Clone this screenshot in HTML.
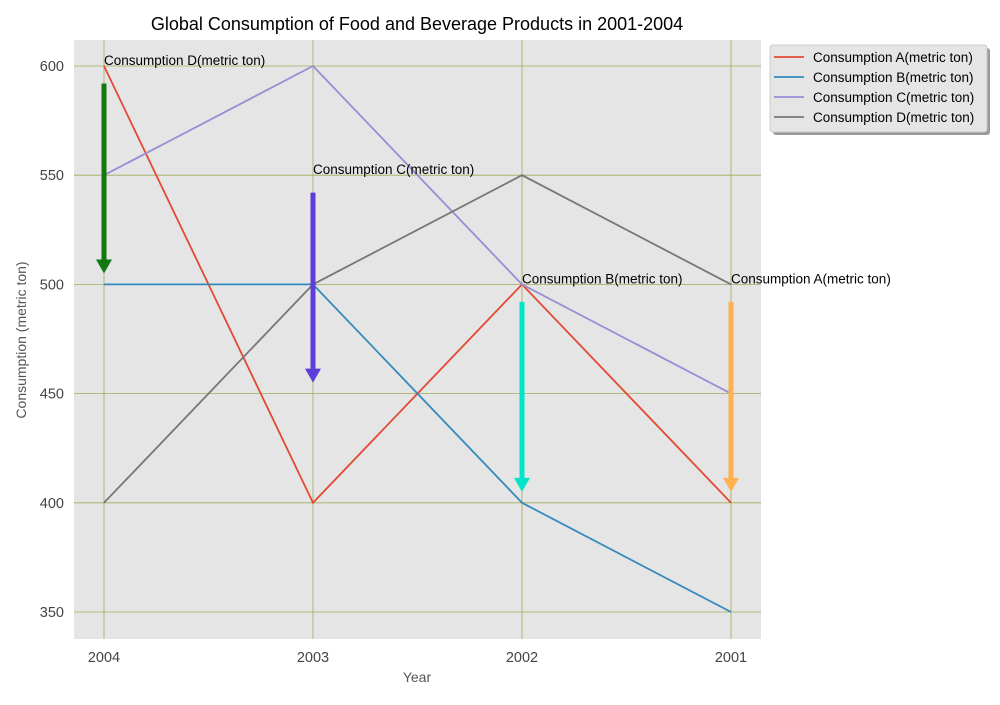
<!DOCTYPE html>
<html><head><meta charset="utf-8"><style>
body{margin:0;background:#fff;font-family:"Liberation Sans",sans-serif}
svg text{font-family:"Liberation Sans",sans-serif}
</style></head><body>
<svg id="chart" width="1000" height="700">
<text x="417" y="30" font-size="18" text-anchor="middle">Global Consumption of Food and Beverage Products in 2001-2004</text>
<rect x="74" y="40" width="687" height="599" fill="#e5e5e5"/>
<g id="grid"></g><g id="series"></g><g id="annots"></g>
<text x="417" y="682" font-size="14" fill="#555" text-anchor="middle">Year</text>
<text transform="translate(26,340) rotate(-90)" font-size="14" fill="#555" text-anchor="middle">Consumption (metric ton)</text>
<g>
<rect x="773" y="48" width="217" height="87" rx="3" fill="#999"/>
<rect x="770" y="45" width="217" height="87" rx="3" fill="#e5e5e5" stroke="#ccc"/>
<g id="legend"></g>
</g>
</svg>
<script>
const categories=["2004","2003","2002","2001"];
const seriesA=[600,400,500,400];
const seriesB=[500,500,400,350];
const seriesC=[550,600,500,450];
const seriesD=[400,500,550,500];
const yTicks=[350,400,450,500,550,600];
const names=["Consumption A(metric ton)","Consumption B(metric ton)","Consumption C(metric ton)","Consumption D(metric ton)"];
const colors=["#e24a33","#348abd","#988ed5","#777777"];
const annotIdx=[3,2,1,0];
const annotVal=[500,500,550,600];
const annotColors=["#ffb04f","#00e5c8","#5e3ed8","#127812"];
const ns="http://www.w3.org/2000/svg";
const X=i=>104+i*209;
const Y=v=>66+(600-v)*2.184;
function mk(t,a,p){const e=document.createElementNS(ns,t);for(const k in a)e.setAttribute(k,a[k]);p.appendChild(e);return e;}
const grid=document.getElementById('grid');
yTicks.forEach(v=>{
 const l=mk('line',{x1:74,x2:761,y1:Y(v),y2:Y(v),stroke:'#a4aa5a','stroke-width':0.8},grid);
 
 
 const t=mk('text',{x:64,y:Y(v)+5,'font-size':14.5,fill:'#444','text-anchor':'end'},grid);t.textContent=v;
 
 
});
categories.forEach((c,i)=>{
 const l=mk('line',{x1:X(i),x2:X(i),y1:40,y2:639,stroke:'#a4aa5a','stroke-width':0.8},grid);
 
 
 const t=mk('text',{x:X(i),y:662,'font-size':14.5,fill:'#444','text-anchor':'middle'},grid);t.textContent=c;
 
 
});
const S=document.getElementById('series');
[seriesA,seriesB,seriesC,seriesD].forEach((d,s)=>{
 const p=mk('polyline',{points:d.map((v,i)=>X(i)+','+Y(v)).join(' '),fill:'none',stroke:colors[s],'stroke-width':1.8},S);
 
 
});
const A=document.getElementById('annots');
annotIdx.forEach((ci,k)=>{
 const x=X(ci),v=annotVal[k],y0=Y(v-8),y1=Y(v-95);
 const g=mk('g',{},A);
 
 
 mk('line',{x1:x,x2:x,y1:y0,y2:y1-12,stroke:annotColors[k],'stroke-width':5},g);
 mk('polygon',{points:`${x-8},${y1-14} ${x+8},${y1-14} ${x},${y1}`,fill:annotColors[k]},g);
 const t=mk('text',{x:x,y:Y(v)-1,'font-size':13.5},A);t.textContent=names[k];
 
 
});
const L=document.getElementById('legend');
names.forEach((n,i)=>{
 const y=57+i*20;
 mk('line',{x1:774,x2:804,y1:y,y2:y,stroke:colors[i],'stroke-width':1.8},L);
 const t=mk('text',{x:813,y:y+5,'font-size':13.5},L);t.textContent=n;
 
 
});
</script>
</body></html>
